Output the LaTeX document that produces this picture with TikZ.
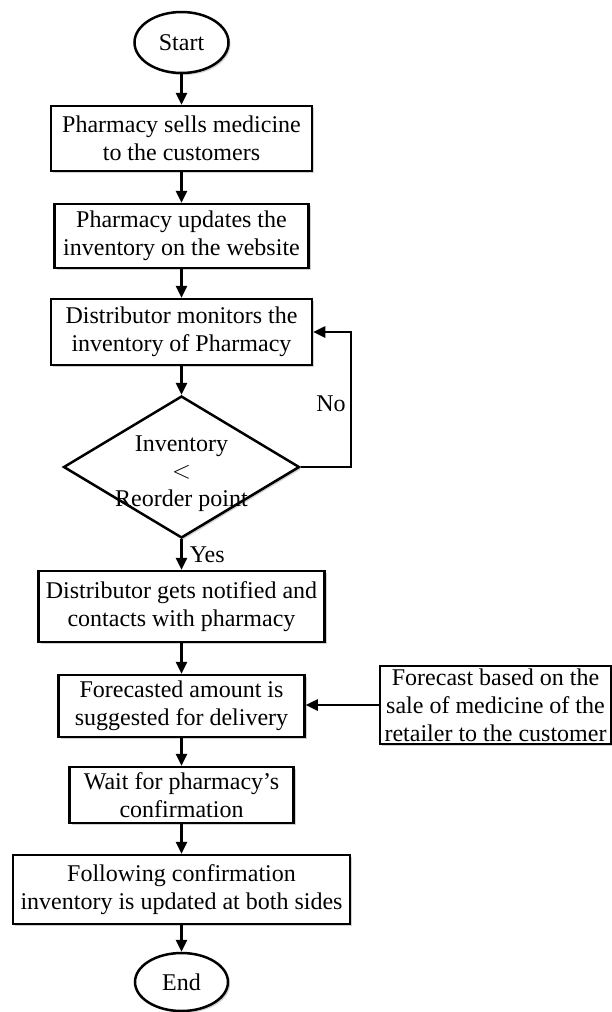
\documentclass[tikz,border=0pt]{standalone}
\usepackage{fontspec}
\setmainfont{Liberation Serif}
\usetikzlibrary{arrows.meta,shapes.geometric,shadows}
\begin{document}
\begin{tikzpicture}[x=1pt,y=-1pt,
  every node/.style={font=\fontsize{24}{28}\selectfont, align=center, inner sep=0pt},
  shad/.style={drop shadow={shadow xshift=2pt, shadow yshift=-2pt, fill=black, opacity=0.18}},
  procbox/.style={draw, line width=2.5pt, rectangle, fill=white, shad},
  term/.style={draw, line width=2.5pt, ellipse, fill=white, shad},
  arr/.style={-{Triangle[length=12pt,width=11pt]}, line width=2.5pt},
  lbl/.style={font=\fontsize{24}{28}\selectfont}
]
\useasboundingbox (0,0) rectangle (612,1012);

\node[term, minimum width=94pt, minimum height=61pt] (start) at (181.5,42.5) {Start};
\node[procbox, minimum width=261pt, minimum height=65pt] (b1) at (181.5,138.5) {Pharmacy sells medicine\\to the customers};
\node[procbox, minimum width=254pt, minimum height=64pt] (b2) at (181.5,236) {Pharmacy updates the\\inventory on the website};
\node[procbox, minimum width=261pt, minimum height=66pt] (b3) at (181.5,332) {Distributor monitors the\\inventory of Pharmacy};
\node[draw, line width=2.5pt, diamond, fill=white, shad, minimum width=236pt, minimum height=142pt] (dec) at (181.5,467) {};
\node[fill=none] (dtext) at (181.5,474) {\fontsize{24}{26}\selectfont Inventory\\[-1pt]$<$\\Reorder point};
\node[procbox, minimum width=286pt, minimum height=71pt] (b4) at (181.5,606.5) {Distributor gets notified and\\contacts with pharmacy};
\node[procbox, minimum width=246pt, minimum height=62pt] (b5) at (181.5,706) {Forecasted amount is\\suggested for delivery};
\node[procbox, minimum width=231pt, minimum height=78pt] (fc) at (495.5,705) {Forecast based on the\\sale of medicine of the\\retailer to the customer};
\node[procbox, minimum width=224pt, minimum height=56pt] (b6) at (181.5,795) {Wait for pharmacy's\\confirmation};
\node[procbox, minimum width=337pt, minimum height=69pt] (b7) at (181.5,889.5) {Following confirmation\\inventory is updated at both sides};
\node[term, minimum width=93pt, minimum height=58pt] (end) at (181.5,982) {End};

\draw[arr] (start) -- (b1);
\draw[arr] (b1) -- (b2);
\draw[arr] (b2) -- (b3);
\draw[arr] (b3) -- (dec.north);
\draw[arr] (dec.south) -- (b4) node[pos=0.5, anchor=west, lbl, xshift=7pt] (yes) {Yes};
\coordinate (loopc) at (351,467);
\draw[arr] (dec.east) -- (loopc) |- (b3.east);
\node[lbl] (no) at (331,404) {No};
\draw[arr] (b4) -- (b5);
\draw[arr] (fc.west) -- (fc.west -| b5.east);
\draw[arr] (b5) -- (b6);
\draw[arr] (b6) -- (b7);
\draw[arr] (b7) -- (end);
\end{tikzpicture}
\end{document}
